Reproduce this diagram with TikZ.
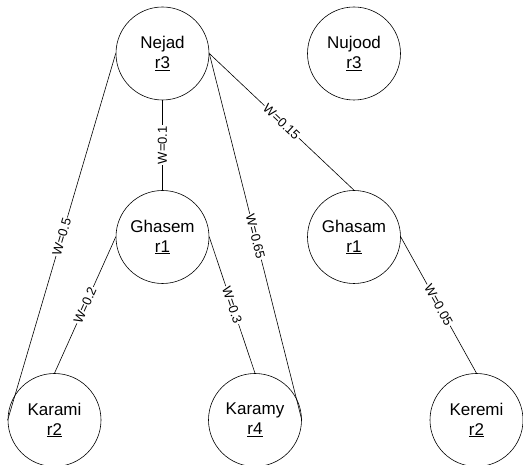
\documentclass[tikz,border=0pt]{standalone}
\usepackage{fontspec}
\setmainfont{Liberation Sans}
\begin{document}
\begin{tikzpicture}[x=1pt,y=-1pt,
  person/.style={draw,circle,minimum size=93pt,inner sep=0pt,align=center,
    font=\fontsize{17}{20}\selectfont},
  wlabel/.style={fill=white,inner sep=1pt,sloped,midway,font=\fontsize{13}{15}\selectfont},
  every path/.style={line width=0.6pt}]
\useasboundingbox (0,0) rectangle (523,465);
\node[person] (nejad) at (162.5,53.5) {Nejad\\\underline{r3}};
\node[person] (nujood) at (354,53.5) {Nujood\\\underline{r3}};
\node[person] (ghasem) at (162.5,237) {Ghasem\\\underline{r1}};
\node[person] (ghasam) at (354,237) {Ghasam\\\underline{r1}};
\node[person] (karami) at (54.5,420) {Karami\\\underline{r2}};
\node[person] (karamy) at (255,420) {Karamy\\\underline{r4}};
\node[person] (keremi) at (476.5,420) {Keremi\\\underline{r2}};
\draw (nejad.south) -- node[wlabel,sloped=false,rotate=90] {W=0.1} (ghasem.north);
\draw (nejad.east) -- node[wlabel] {W=0.15} (ghasam.north);
\draw (nejad.west) -- node[wlabel] {W=0.5} (karami.west);
\draw (nejad.east) -- node[wlabel] {W=0.65} (karamy.east);
\draw (ghasem.west) -- node[wlabel] {W=0.2} (karami.north);
\draw (ghasem.east) -- node[wlabel] {W=0.3} (karamy.north);
\draw (ghasam.east) -- node[wlabel] {W=0.05} (keremi.north);
\end{tikzpicture}
\end{document}
